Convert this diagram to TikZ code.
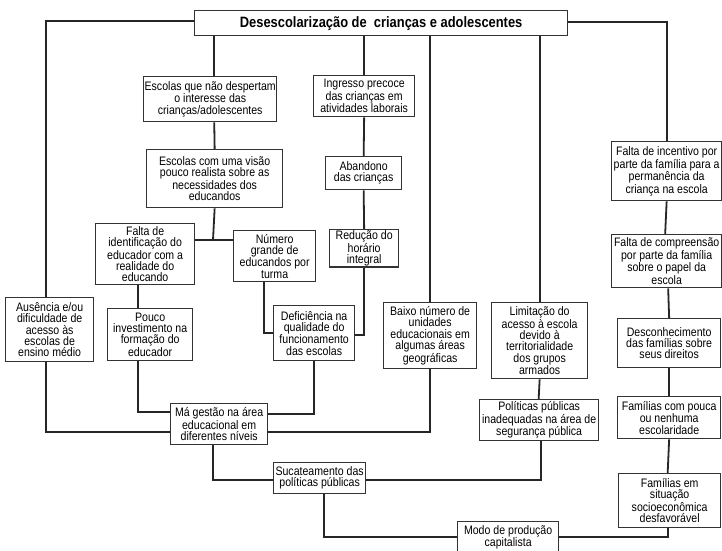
\documentclass[tikz,border=0pt]{standalone}
\usepackage{fontspec}
\setmainfont{Liberation Sans}[FakeStretch=0.86]
\newfontfamily\titulo{Liberation Sans}[FakeStretch=0.86]
\usepackage{tikz}
\usetikzlibrary{positioning}

\begin{document}
\begin{tikzpicture}[x=1pt,y=-1pt,
  caixa/.style={draw=black!80,line width=1.3pt,fill=white,align=center,anchor=north west,inner xsep=1pt,inner ysep=1pt,font=\fontsize{12.3}{11.3}\selectfont},
  liga/.style={line width=1.8pt,draw=black!85}]
 \useasboundingbox[fill=white] (0,0) rectangle (722,550);
 % causa central
 \node[caixa,minimum width=373,minimum height=25,font=\titulo\bfseries\fontsize{15}{15}\selectfont] (topo) at (194,10) {Desescolarização de~ crianças e adolescentes};
 % ramo das escolas
 \node[caixa,minimum width=132,minimum height=45] (escolas1) at (143,76) {Escolas que não despertam\\o interesse das\\crianças/adolescentes};
 \node[caixa,minimum width=136,minimum height=58] (escolas2) at (146,149) {Escolas com uma visão\\pouco realista sobre as\\necessidades dos\\educandos};
 \node[caixa,minimum width=99,minimum height=61] (falta) at (95,223) {Falta de\\identificação do\\educador com a\\realidade do\\educando};
 \node[caixa,minimum width=82,minimum height=51] (numero) at (233,230) {Número\\grande de\\educandos por\\turma};
 \node[caixa,minimum width=85,minimum height=52] (pouco) at (107,308) {Pouco\\investimento na\\formação do\\educador};
 \node[caixa,minimum width=88,minimum height=64] (ausencia) at (5,297) {Ausência e/ou\\dificuldade de\\acesso às\\escolas de\\ensino médio};
 \node[caixa,minimum width=81,minimum height=55] (deficiencia) at (273,305) {Deficiência na\\qualidade do\\funcionamento\\das escolas};
 \node[caixa,minimum width=97,minimum height=41] (magestao) at (170,403) {Má gestão na área\\educacional em\\diferentes níveis};
 % ramo do trabalho infantil
 \node[caixa,minimum width=101,minimum height=41] (ingresso) at (313,75) {Ingresso precoce\\das crianças em\\atividades laborais};
 \node[caixa,minimum width=76,minimum height=33] (abandono) at (325,156) {Abandono\\das crianças};
 \node[caixa,minimum width=69,minimum height=31] (reducao) at (329,229) {Redução do\\horário\\integral};
 \node[caixa,minimum width=93,minimum height=66] (baixo) at (383,302) {Baixo número de\\unidades\\educacionais em\\algumas áreas\\geográficas};
 % ramo da violência
 \node[caixa,minimum width=96,minimum height=76] (limitacao) at (491,302) {Limitação do\\acesso à escola\\devido à\\territorialidade\\dos grupos\\armados};
 \node[caixa,minimum width=119,minimum height=41] (politicas) at (479,399) {Políticas públicas\\inadequadas na área de\\segurança pública};
 \node[caixa,minimum width=92,minimum height=31] (sucateamento) at (273,462) {Sucateamento das\\políticas públicas};
 \node[caixa,minimum width=101,minimum height=31] (modo) at (457,521) {Modo de produção\\capitalista};
 % ramo da família
 \node[caixa,minimum width=110,minimum height=59] (incentivo) at (611,141) {Falta de incentivo por\\parte da família para a\\permanência da\\criança na escola};
 \node[caixa,minimum width=110,minimum height=53] (compreensao) at (611,234) {Falta de compreensão\\por parte da família\\sobre o papel da\\escola};
 \node[caixa,minimum width=103,minimum height=49] (desconhecimento) at (617,318) {Desconhecimento\\das famílias sobre\\seus direitos};
 \node[caixa,minimum width=103,minimum height=42] (poucaesc) at (617,396) {Famílias com pouca\\ou nenhuma\\escolaridade};
 \node[caixa,minimum width=102,minimum height=54] (situacao) at (618,473) {Famílias em\\situação\\socioeconômica\\desfavorável};

 % ligacoes
 \coordinate (j1) at (213,240);
 \draw[liga] ([yshift=2pt]topo.west) -| ([xshift=-4pt]ausencia.north);
 \draw[liga] ([xshift=-4pt]ausencia.south) |- ([yshift=-8pt]magestao.west);
 \draw[liga] ([xshift=4pt]escolas1.north) -- ([xshift=4pt]escolas1.north |- topo.south);
 \draw[liga] ([xshift=4pt]escolas1.south) -- (escolas2.north);
 \draw[liga] (escolas2.south) -- (j1);
 \draw[liga] (j1 -| falta.east) -- (j1 -| numero.west);
 \draw[liga] ([xshift=-7pt]falta.south) -- ([xshift=-12pt]pouco.north);
 \draw[liga] ([xshift=-12pt]pouco.south) |- ([yshift=12pt]magestao.west);
 \draw[liga] ([xshift=-11pt]numero.south) |- (deficiencia.west);
 \draw[liga] (deficiencia.south) |- ([yshift=10pt]magestao.east);
 \draw[liga] (ingresso.north) -- (ingresso.north |- topo.south);
 \draw[liga] (ingresso.south) -- (abandono.north);
 \draw[liga] (abandono.south) -- (reducao.north);
 \draw[liga] (reducao.south) |- ([yshift=-2pt]deficiencia.east);
 \draw[liga] (baixo.north) -- (baixo.north |- topo.south);
 \draw[liga] (baixo.south) |- ([yshift=-8pt]magestao.east);
 \draw[liga] (limitacao.north) -- (limitacao.north |- topo.south);
 \draw[liga] (limitacao.south) -- ([xshift=-0.5pt]politicas.north);
 \draw[liga] ([xshift=2pt]politicas.south) |- ([yshift=-1.5pt]sucateamento.east);
 \draw[liga] ([xshift=-6pt]magestao.south) |- ([yshift=-1.5pt]sucateamento.west);
 \draw[liga] ([xshift=4pt]sucateamento.south) |- (modo.west);
 \draw[liga] ([yshift=1pt]topo.east) -| (incentivo.north);
 \draw[liga] (incentivo.south) -- ([xshift=-1.5pt]compreensao.north);
 \draw[liga] ([xshift=1.5pt]compreensao.south) -- (desconhecimento.north);
 \draw[liga] (desconhecimento.south) -- (poucaesc.north);
 \draw[liga] (poucaesc.south) -- ([xshift=-2pt]situacao.north);
 \draw[liga] ([xshift=-2pt]situacao.south) |- (modo.east);
\end{tikzpicture}
\end{document}
